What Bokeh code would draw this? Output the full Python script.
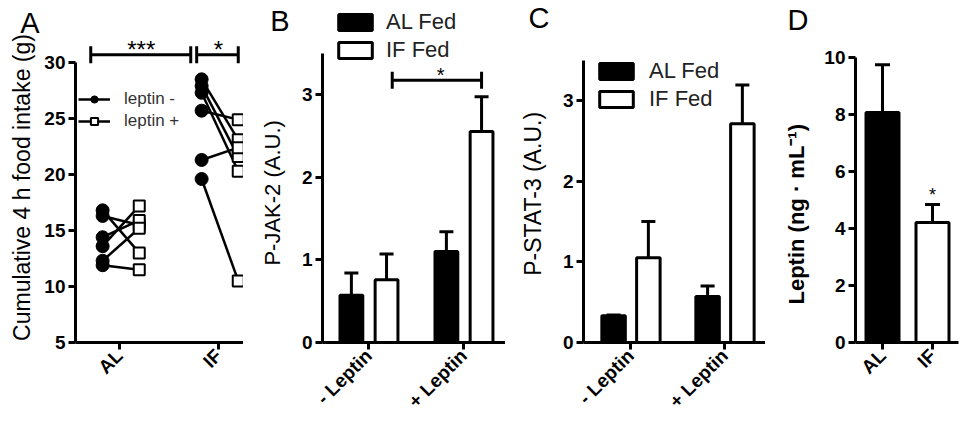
from bokeh.plotting import figure
from bokeh.models import (ColumnDataSource, Whisker, TeeHead, Legend, LegendItem,
                          FixedTicker, Range1d, LinearAxis)
from bokeh.layouts import row
from bokeh.embed import file_html
from bokeh.resources import INLINE
from bokeh.core.properties import value
import math

# ---------------- data ----------------
# Panel A: cumulative 4 h food intake (g), paired leptin - / leptin +
a_groups = ["AL", "IF"]
al_leptin_minus = [16.8, 16.3, 14.4, 13.6, 12.3, 11.9]
al_leptin_plus = [13.0, 15.5, 15.9, 17.2, 15.2, 11.5]
if_leptin_minus = [28.5, 27.9, 27.3, 25.7, 21.3, 19.6]
if_leptin_plus = [23.1, 21.6, 20.3, 24.9, 22.4, 10.5]
a_yticks = [5, 10, 15, 20, 25, 30]
a_series = ["leptin -", "leptin +"]
a_sig = ["***", "*"]

# Panels B and C
conditions = ["- Leptin", "+ Leptin"]
bc_series = ["AL Fed", "IF Fed"]
jak2_al = [0.57, 1.10]
jak2_al_sem = [0.27, 0.24]
jak2_if = [0.76, 2.55]
jak2_if_sem = [0.31, 0.42]
stat3_al = [0.33, 0.57]
stat3_al_sem = [0.01, 0.13]
stat3_if = [1.05, 2.71]
stat3_if_sem = [0.45, 0.48]
bc_yticks = [0, 1, 2, 3]

# Panel D: plasma leptin
d_groups = ["AL", "IF"]
leptin = [8.07, 4.21]
leptin_sem = [1.68, 0.63]
d_yticks = [0, 2, 4, 6, 8, 10]

FONT = "Liberation Sans"
H = 423
FRAME_BOTTOM = 342
NBSP = "\u00a0"


def make_panel(fig_left, width, frame_left, frame_right, xr, yr):
    p = figure(width=width, height=H, output_backend="svg", toolbar_location=None,
               x_range=Range1d(*xr), y_range=Range1d(*yr),
               min_border_left=frame_left - fig_left,
               min_border_right=fig_left + width - frame_right,
               min_border_top=0, min_border_bottom=H - FRAME_BOTTOM)
    p.outline_line_color = None
    p.xgrid.visible = False
    p.ygrid.visible = False
    p.background_fill_color = "white"
    p.border_fill_color = "white"
    for ax in p.axis:
        ax.axis_line_width = 3
        ax.axis_line_color = "black"
        ax.major_tick_line_width = 3
        ax.major_tick_line_color = "black"
        ax.major_tick_out = 7
        ax.major_tick_in = 0
        ax.minor_tick_line_color = None
        ax.major_label_text_font = FONT
        ax.major_label_text_font_style = "bold"
        ax.major_label_text_font_size = "19px"
        ax.major_label_text_color = "black"
        ax.major_label_standoff = 3
        ax.axis_label_text_font = FONT
        ax.axis_label_text_font_style = "normal"
        ax.axis_label_text_color = "black"

    def y_at(cy):
        return round(yr[0] + (FRAME_BOTTOM - cy) / FRAME_BOTTOM * (yr[1] - yr[0]), 3)

    return p, y_at


def ylabel(p, text, size, standoff, shift, bold=False):
    # trailing no-break spaces nudge the centred label down along the axis
    p.yaxis.axis_label = text + NBSP * shift
    p.yaxis.axis_label_text_font_size = size
    p.yaxis.axis_label_standoff = standoff
    if bold:
        p.yaxis.axis_label_text_font_style = "bold"


def letter(p, y_at, txt, cy, standoff):
    v = y_at(cy)
    ax = LinearAxis(ticker=FixedTicker(ticks=[v]), major_label_overrides={v: txt},
                    axis_line_color=None, major_tick_line_color=None,
                    major_tick_out=0, major_tick_in=0, minor_tick_line_color=None,
                    major_label_standoff=standoff, major_label_text_font=FONT,
                    major_label_text_font_size="29px",
                    major_label_text_font_style="normal",
                    major_label_text_color="black")
    p.add_layout(ax, "left")


def star(p, x, y, txt, size="20px"):
    p.text(x=[x], y=[y], text=[txt], text_font=value(FONT), text_font_size=size,
           text_align="center", text_baseline="alphabetic", text_color="black")


def bracket(p, x0, x1, y):
    src = ColumnDataSource(dict(base=[y], lower=[x0], upper=[x1]))
    p.add_layout(Whisker(base="base", lower="lower", upper="upper", dimension="width",
                         source=src, line_width=3, line_color="black",
                         lower_head=TeeHead(size=17, line_width=3, line_color="black"),
                         upper_head=TeeHead(size=17, line_width=3, line_color="black")))


def errbars(p, xs, vals, sems, cap=14):
    src = ColumnDataSource(dict(x=xs, lo=vals, hi=[v + s for v, s in zip(vals, sems)]))
    p.add_layout(Whisker(base="x", lower="lo", upper="hi", source=src, line_width=3,
                         line_color="black", lower_head=None, level="glyph",
                         upper_head=TeeHead(size=cap, line_width=3, line_color="black")))


def bar_legend(p, renderers, loc, standoff):
    items = [LegendItem(label=s, renderers=[r]) for s, r in zip(bc_series, renderers)]
    lg = Legend(items=items, location=loc, glyph_width=42, glyph_height=20,
                label_height=20, label_standoff=standoff, spacing=2, padding=0, margin=0,
                border_line_color=None, background_fill_alpha=0,
                label_text_font=FONT, label_text_font_size="22px",
                label_text_color="#222222")
    p.add_layout(lg)


# ---------------- Panel A ----------------
pA, yA = make_panel(0, 243, 75, 243, (-0.444, 1.253), (5, 35.54))
off_minus, off_plus = -0.17, 0.20
x0s, y0s, x1s, y1s = [], [], [], []
for gi, (mins, plus) in enumerate([(al_leptin_minus, al_leptin_plus),
                                   (if_leptin_minus, if_leptin_plus)]):
    for a, b in zip(mins, plus):
        x0s.append(gi + off_minus); y0s.append(a)
        x1s.append(gi + off_plus); y1s.append(b)
seg = pA.segment(x0=x0s, y0=y0s, x1=x1s, y1=y1s, line_color="black", line_width=2.5)
circ = pA.scatter(x=x0s, y=y0s, marker="circle", size=13, fill_color="black",
                  line_color="black")
sq = pA.scatter(x=x1s, y=y1s, marker="square", size=11, fill_color="white",
                line_color="black", line_width=2)
pA.yaxis.bounds = (5, 30)
pA.yaxis.ticker = FixedTicker(ticks=a_yticks)
ylabel(pA, "Cumulative 4 h food intake (g)", "23px", 6, 5)
pA.xaxis.ticker = FixedTicker(ticks=[0, 1])
pA.xaxis.major_label_overrides = {0: a_groups[0], 1: a_groups[1]}
pA.xaxis.major_label_orientation = math.pi / 4
legA = Legend(items=[LegendItem(label=a_series[0], renderers=[seg, circ]),
                     LegendItem(label=a_series[1], renderers=[seg, sq])],
              location=(3, 211), glyph_width=32, glyph_height=18, label_height=18,
              label_standoff=14, spacing=2, padding=0, margin=0,
              border_line_color=None, background_fill_alpha=0,
              label_text_font=FONT, label_text_font_size="17px",
              label_text_color="#333333")
pA.add_layout(legA)
a_bracket_y = 30.7
bracket(pA, 0 - 0.29, 1 - 0.28, a_bracket_y)
bracket(pA, 1 - 0.22, 1 + 0.20, a_bracket_y)
star(pA, 0.22, a_bracket_y + 0.42, a_sig[0], "24px")
star(pA, 1.0, a_bracket_y + 0.42, a_sig[1], "24px")
letter(pA, yA, "A", 22, -33)


# ---------------- Panels B and C ----------------
def bar_panel(fig_left, width, frame_left, frame_right, xr, yr,
              al, al_sem, iff, iff_sem, bar_w, offs):
    p, y_at = make_panel(fig_left, width, frame_left, frame_right, xr, yr)
    xs_al = [i + offs[0] for i in range(len(conditions))]
    xs_if = [i + offs[1] for i in range(len(conditions))]
    errbars(p, xs_al, al, al_sem)
    errbars(p, xs_if, iff, iff_sem)
    r_al = p.vbar(x=xs_al, top=al, bottom=0, width=bar_w, fill_color="black",
                  line_color="black", line_width=3)
    r_if = p.vbar(x=xs_if, top=iff, bottom=0, width=bar_w, fill_color="white",
                  line_color="black", line_width=3)
    p.yaxis.bounds = (0, 3.5)
    p.yaxis.ticker = FixedTicker(ticks=bc_yticks)
    p.xaxis.ticker = FixedTicker(ticks=[0, 1])
    p.xaxis.major_label_overrides = {0: conditions[0], 1: conditions[1]}
    p.xaxis.major_label_orientation = math.pi / 4
    return p, y_at, r_al, r_if, xs_al, xs_if


pB, yB, bAL, bIF, xbal, xbif = bar_panel(243, 262, 322, 505, (-0.484, 1.442),
                                         (0, 4.135), jak2_al, jak2_al_sem, jak2_if,
                                         jak2_if_sem, 0.24, (-0.18, 0.19))
ylabel(pB, "P-JAK-2 (A.U.)", "22px", 14, 7)
bar_legend(pB, [bAL, bIF], (12, 279), 10)
b_bracket_y = 3.17
bracket(pB, xbif[0] + 0.06, xbif[1], b_bracket_y)
star(pB, (xbif[0] + 0.06 + xbif[1]) / 2 + 0.04, b_bracket_y + 0.07, "*", "20px")
letter(pB, yB, "B", 20, -33)

pC, yC, cAL, cIF, xcal, xcif = bar_panel(505, 260, 583, 765, (-0.5, 1.436),
                                         (0, 4.238), stat3_al, stat3_al_sem, stat3_if,
                                         stat3_if_sem, 0.25, (-0.18, 0.19))
ylabel(pC, "P-STAT-3 (A.U.)", "23px", 14, 7)
bar_legend(pC, [cAL, cIF], (12, 230), 12)
letter(pC, yC, "C", 17, -33)

# ---------------- Panel D ----------------
pD, yD = make_panel(765, 195, 855, 958, (-0.54, 1.52), (0, 12.0))
xs_d = list(range(len(d_groups)))
errbars(pD, xs_d, leptin, leptin_sem, cap=15)
pD.vbar(x=xs_d, top=leptin, bottom=0, width=0.66, fill_color=["black", "white"],
        line_color="black", line_width=3)
pD.yaxis.bounds = (0, 10)
pD.yaxis.ticker = FixedTicker(ticks=d_yticks)
ylabel(pD, "Leptin (ng · mL\u207b\u00b9)", "22px", 12, 14, bold=True)
pD.xaxis.ticker = FixedTicker(ticks=[0, 1])
pD.xaxis.major_label_overrides = {0: d_groups[0], 1: d_groups[1]}
pD.xaxis.major_label_orientation = math.pi / 4
star(pD, 1, leptin[1] + leptin_sem[1] + 0.35, "*", "18px")
letter(pD, yD, "D", 19, -27)

layout = row(pA, pB, pC, pD, spacing=0)
open("out.html", "w").write(file_html(layout, INLINE))
